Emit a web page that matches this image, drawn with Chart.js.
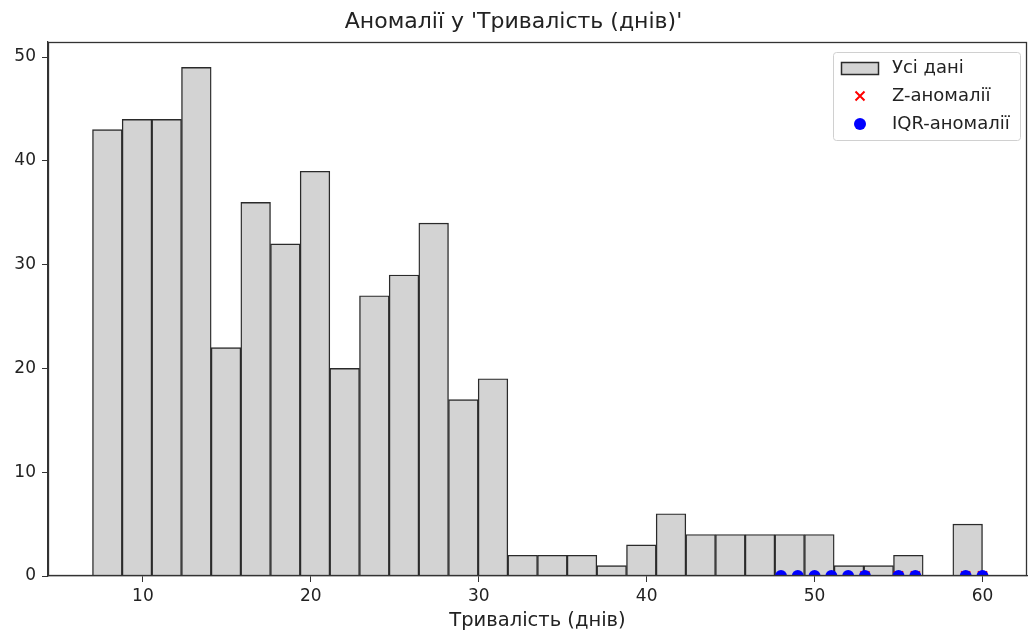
<!DOCTYPE html>
<html>
<head>
<meta charset="utf-8">
<script src="https://cdn.jsdelivr.net/npm/chart.js@4/dist/chart.umd.min.js"></script>
<style>
  html, body { margin: 0; padding: 0; background: #fff; }
  #wrap { width: 1030px; height: 631px; }
</style>
</head>
<body>
<div id="wrap"><canvas id="c" width="1030" height="631"></canvas></div>
<script>
// ---- data ----
const chartTitle = "Аномалії у 'Тривалість (днів)'";
const xAxisTitle = "Тривалість (днів)";
const histMin = 7;
const histMax = 60;
const binCount = 30;
const counts = [43, 44, 44, 49, 22, 36, 32, 39, 20, 27, 29, 34, 17, 19, 2, 2, 2, 1, 3, 6, 4, 4, 4, 4, 4, 1, 1, 2, 0, 5];
const zAnomalies = [53, 55, 56, 59, 60];
const iqrAnomalies = [48, 49, 50, 51, 52, 53, 55, 56, 59, 60];
const xTicks = [10, 20, 30, 40, 50, 60];
const yTicks = [0, 10, 20, 30, 40, 50];
const seriesLabels = ['Усі дані', 'Z-аномалії', 'IQR-аномалії'];

// ---- build ----
const binW = (histMax - histMin) / binCount;
const barData = counts.map((c, i) => ({ x: histMin + binW * (i + 0.5), y: c }));
const zData = zAnomalies.map(v => ({ x: v, y: 0 }));
const iqrData = iqrAnomalies.map(v => ({ x: v, y: 0 }));
const pad = (histMax - histMin) * 0.05;
const yMax = Math.max(...counts) * 1.05;

const FONT = "'DejaVu Sans', sans-serif";
const TXT = '#222';
const AX = '#333';

const framePlugin = {
  id: 'frame',
  afterDatasetsDraw(chart) {
    const { ctx, chartArea: a } = chart;
    ctx.save();
    ctx.strokeStyle = AX;
    ctx.lineWidth = 1.3;
    ctx.strokeRect(a.left + 0.5, a.top + 0.5, a.right - a.left - 1, a.bottom - a.top - 1);
    ctx.restore();
  }
};

const legendPlugin = {
  id: 'mplLegend',
  afterDraw(chart) {
    const { ctx, chartArea: a } = chart;
    const ds = chart.data.datasets;
    const bw = 187, bh = 88;
    const bx = a.right - 7 - bw, by = a.top + 10;
    ctx.save();
    ctx.beginPath();
    ctx.roundRect(bx + 0.5, by + 0.5, bw, bh, 3);
    ctx.fillStyle = 'rgba(255,255,255,0.85)';
    ctx.fill();
    ctx.strokeStyle = '#d0d0d0';
    ctx.lineWidth = 1;
    ctx.stroke();
    ctx.font = '18px ' + FONT;
    ctx.textBaseline = 'middle';
    const rowY = [by + 16, by + 44, by + 72];
    const mx = bx + 27;
    // patch
    ctx.fillStyle = ds[0].backgroundColor;
    ctx.fillRect(bx + 8, rowY[0] - 6, 38, 13);
    ctx.strokeStyle = ds[0].borderColor;
    ctx.lineWidth = 1.5;
    ctx.strokeRect(bx + 8.5, rowY[0] - 5.5, 37, 12);
    // cross
    ctx.strokeStyle = ds[1].borderColor;
    ctx.lineWidth = 2;
    ctx.beginPath();
    ctx.moveTo(mx - 4.5, rowY[1] - 4.5); ctx.lineTo(mx + 4.5, rowY[1] + 4.5);
    ctx.moveTo(mx + 4.5, rowY[1] - 4.5); ctx.lineTo(mx - 4.5, rowY[1] + 4.5);
    ctx.stroke();
    // dot
    ctx.fillStyle = ds[2].backgroundColor;
    ctx.beginPath();
    ctx.arc(mx, rowY[2], 6, 0, Math.PI * 2);
    ctx.fill();
    ctx.fillStyle = TXT;
    for (let i = 0; i < 3; i++) ctx.fillText(ds[i].label, bx + 59, rowY[i]);
    ctx.restore();
  }
};

new Chart(document.getElementById('c'), {
  type: 'bar',
  data: {
    datasets: [
      {
        type: 'bar', label: seriesLabels[0], data: barData,
        backgroundColor: '#d3d3d3', borderColor: '#2a2a2a', borderWidth: 1.4,
        barPercentage: 1, categoryPercentage: 1, grouped: false, order: 3
      },
      {
        type: 'scatter', label: seriesLabels[1], data: zData,
        pointStyle: 'crossRot', radius: 6.5, borderColor: '#ff0000', backgroundColor: '#ff0000',
        borderWidth: 2, showLine: false, order: 2, clip: 0
      },
      {
        type: 'scatter', label: seriesLabels[2], data: iqrData,
        pointStyle: 'circle', radius: 6, borderWidth: 0, borderColor: '#0000ff', backgroundColor: '#0000ff',
        showLine: false, order: 1, clip: 0
      }
    ]
  },
  options: {
    responsive: false,
    animation: false,
    events: [],
    layout: { autoPadding: false, padding: { left: 0, right: 3, top: 0, bottom: 0 } },
    plugins: {
      legend: { display: false },
      tooltip: { enabled: false },
      title: {
        display: true, text: chartTitle, color: TXT,
        font: { family: FONT, size: 22, weight: 'normal' },
        padding: { top: 9, bottom: 6.6 }
      }
    },
    scales: {
      x: {
        type: 'linear', min: histMin - pad, max: histMax + pad, offset: false,
        afterBuildTicks: s => { s.ticks = xTicks.map(v => ({ value: v })); },
        afterFit: s => { s.height = 55; s.paddingLeft = 0; s.paddingRight = 0; },
        grid: { display: true, drawOnChartArea: false, drawTicks: true, tickLength: 6, color: AX, offset: false },
        border: { display: true, color: AX, width: 1.3 },
        ticks: { color: TXT, font: { family: FONT, size: 17 }, padding: 4, maxRotation: 0 },
        title: { display: true, text: xAxisTitle, color: TXT, font: { family: FONT, size: 19.5 }, padding: { top: 0, bottom: -2 } }
      },
      y: {
        type: 'linear', min: 0, max: yMax,
        afterBuildTicks: s => { s.ticks = yTicks.map(v => ({ value: v })); },
        afterFit: s => { s.width = 48; s.paddingTop = 0; s.paddingBottom = 0; },
        grid: { display: true, drawOnChartArea: false, drawTicks: true, tickLength: 6, color: AX },
        border: { display: true, color: AX, width: 1.3 },
        ticks: { color: TXT, font: { family: FONT, size: 17 }, padding: 6 }
      }
    }
  },
  plugins: [framePlugin, legendPlugin]
});
</script>
</body>
</html>
